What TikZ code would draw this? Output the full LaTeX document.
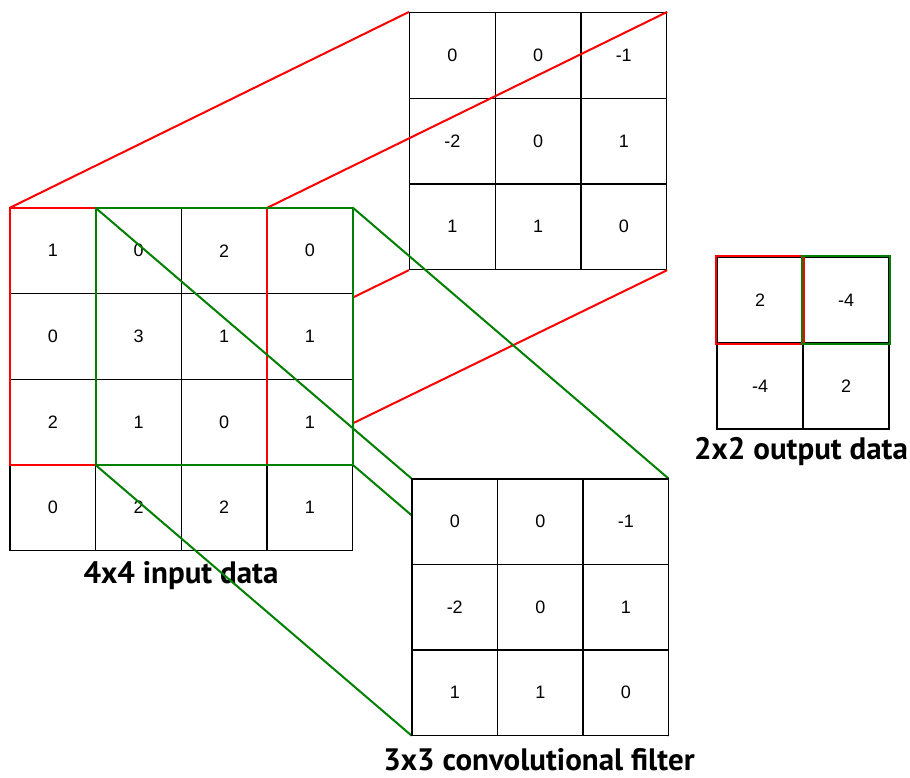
\documentclass[tikz,border=0pt]{standalone}
\usepackage{fontspec}
\setmainfont{Liberation Sans}
\newfontfamily\captionfont{PT Sans}
\begin{document}
\begin{tikzpicture}[
			x=1pt, y=-1pt,
			cell/.style={rectangle, draw=black, line width=1.2pt, fill=white, minimum size=85.6pt, inner sep=0pt, font=\fontsize{18}{20}\selectfont},
			slot/.style={rectangle, minimum size=85.6pt, inner sep=0pt},
			redline/.style={draw=red, line width=2pt},
			greenline/.style={draw=green!50!black, line width=2pt},
			caption/.style={inner sep=1pt, font=\captionfont\bfseries\fontsize{31}{36}\selectfont}
		]
		\useasboundingbox (0,0) rectangle (910,778);

		\foreach \vals [count=\r] in {{0,0,-1},{-2,0,1},{1,1,0}}
			\foreach \v [count=\c] in \vals
				\node[cell] (upper-\r-\c) at ({409.5+85.7*(\c-0.5)}, {12.5+85.7*(\r-0.5)}) {\v};

		\foreach \r in {1,...,4}
			\foreach \c in {1,...,4}
				\node[slot] (in-\r-\c) at ({10+85.7*(\c-0.5)}, {208+85.6*(\r-0.5)}) {};

		\draw[redline] (in-1-1.north west) -- (upper-1-1.north west);
		\draw[redline] (in-1-3.north east) -- (upper-1-3.north east);
		\draw[redline] (in-3-1.south west) -- (upper-3-1.south west);
		\draw[redline] (in-3-3.south east) -- (upper-3-3.south east);

		\foreach \vals [count=\r] in {{1,0,2,0},{0,3,1,1},{2,1,0,1},{0,2,2,1}}
			\foreach \v [count=\c] in \vals
				\node[cell] at (in-\r-\c) {\v};

		\draw[redline] (in-1-1.north west) rectangle (in-3-3.south east);

		\node[caption] (inlabel) at (181,576) {4x4 input data};
		\node[caption] (filterlabel) at (539,760) {3x3 convolutional filter};
		\node[caption] (outlabel) at (801,452) {2x2 output data};

		\foreach \r in {1,2,3}
			\foreach \c in {1,2,3}
				\node[slot] (lower-\r-\c) at ({412+85.5*(\c-0.5)}, {479+85.5*(\r-0.5)}) {};

		\draw[greenline] (in-1-2.north west) -- (lower-1-1.north west);
		\draw[greenline] (in-1-4.north east) -- (lower-1-3.north east);
		\draw[greenline] (in-3-2.south west) -- (lower-3-1.south west);
		\draw[greenline] (in-3-4.south east) -- (lower-3-3.south east);
		\draw[greenline] (in-1-2.north west) rectangle (in-3-4.south east);

		\foreach \vals [count=\r] in {{0,0,-1},{-2,0,1},{1,1,0}}
			\foreach \v [count=\c] in \vals
				\node[cell] at (lower-\r-\c) {\v};

		\foreach \vals [count=\r] in {{2,-4},{-4,2}}
			\foreach \v [count=\c] in \vals
				\node[cell, minimum size=86pt] (out-\r-\c) at ({717+86*(\c-0.5)}, {257+86*(\r-0.5)}) {\v};
		\draw[redline] (out-1-1.north west) rectangle (out-1-1.south east);
		\draw[greenline] (out-1-2.north west) rectangle (out-1-2.south east);
	\end{tikzpicture}
\end{document}
